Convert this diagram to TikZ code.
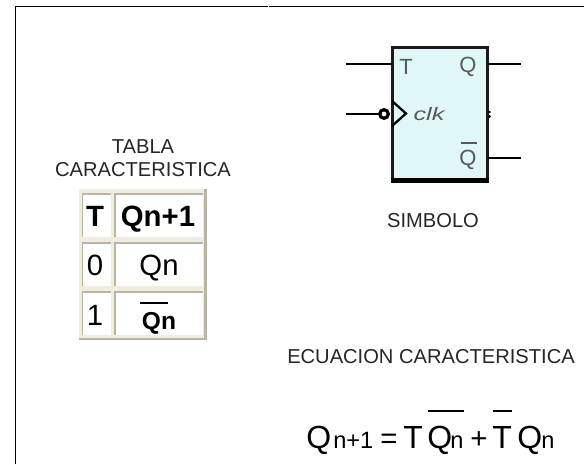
\documentclass[tikz,border=0pt]{standalone}
\usepackage{graphicx}
\usepackage{fontspec}
\setmainfont{Liberation Sans}
\definecolor{cellline}{HTML}{B8B5A0}
\definecolor{celllight}{HTML}{EFEDE0}
\definecolor{ffill}{HTML}{E0F7F7}
\tikzset{
 x=0.75pt,y=-0.75pt,
 frameline/.style={line width=1pt},
 wire/.style={line width=1.8pt},
 lbl/.style={inner sep=0pt,font=\fontsize{15.1pt}{18pt}\selectfont,text=black!85},
 sym/.style={inner sep=0pt,font=\fontsize{16.5pt}{18pt}\selectfont,text=black!65},
 cell/.style={fill=white,inner sep=0pt,outer sep=0pt},
 narrowcell/.style={cell,minimum width=21pt,minimum height=32.25pt},
 widecell/.style={cell,minimum width=66pt,minimum height=32.25pt},
 celledge/.style={draw=cellline,line width=1.3pt},
 tabtxt/.style={inner sep=0pt,anchor=base,font=\fontsize{22pt}{24pt}\selectfont},
 tabbold/.style={inner sep=0pt,anchor=base,font=\fontsize{22pt}{24pt}\bfseries},
 eq/.style={inner sep=0pt,anchor=base west,font=\fontsize{24pt}{26pt}\selectfont},
 eqs/.style={inner sep=0pt,anchor=base west,font=\fontsize{17.7pt}{20pt}\selectfont},
 eqop/.style={inner sep=0pt,anchor=base west,font=\fontsize{22pt}{24pt}\selectfont},
}
\begin{document}
\begin{tikzpicture}
\useasboundingbox (0,0) rectangle (584,464);
\coordinate (fa) at (15.3,464); \coordinate (fb) at (15.3,6.3); \coordinate (fc) at (267.5,6.3);
\coordinate (fd) at (269,6.3); \coordinate (fe) at (584,6.3);
\draw[frameline] (fa) -- (fb) -- (fc);
\draw[frameline] (fd) -- (fe);
% flip-flop
\node[draw=black!90,fill=ffill,line width=2.25pt,minimum width=71.25pt,minimum height=99.4pt,inner sep=0pt,outer sep=0pt] (ff) at (440,113.75) {};
\draw[line width=3.75pt] ([xshift=-1.1pt]ff.south west) -- ([xshift=1.1pt]ff.south east);
\coordinate (tin) at (346,64); \coordinate (tp) at (392,64);
\coordinate (qo) at (521,64); \coordinate (qp) at (488,64);
\coordinate (nqo) at (521,158); \coordinate (nqp) at (488,158);
\coordinate (cin) at (346,114); \coordinate (cp) at (379,114);
\coordinate (k1) at (392,101); \coordinate (k2) at (406,113.5); \coordinate (k3) at (392,126);
\draw[wire] (tin) -- (tp);
\draw[wire] (qp) -- (qo);
\draw[wire] (nqp) -- (nqo);
\draw[line width=1.7pt] (k1) -- (k2) -- (k3);
\draw[wire] (cin) -- (cp);
\draw[line width=2.4pt,fill=white] (384,114) circle (4.3);
\draw[line width=1.6pt,line cap=round] (489,112) -- (489.8,112) (489,116.5) -- (489.8,116.5);
\node[sym] (lt) at (406,67) {T};
\node[sym] (lq) at (468,67) {Q};
\node[sym] (lnq) at (468,160) {Q};
\draw[line width=1pt,black!65] (461,143) -- (477,143);
\node[inner sep=0pt,text=black!65,font=\fontsize{13.5pt}{16pt}\itshape] (lclk) at (429,114) {\scalebox{1.4}[1]{clk}};
\node[lbl] (simb) at (433,221) {SIMBOLO};
\node[lbl] (t1) at (143,147) {TABLA};
\node[lbl] (t2) at (143,170) {CARACTERISTICA};
% table
\fill[cellline] (79,189) rectangle (206.5,339.5);
\fill[celllight] (79,189) rectangle (204,337.5);
\node[narrowcell] (c1) at (96.5,215.5) {};
\node[widecell] (c2) at (159,215.5) {};
\node[narrowcell] (c3) at (96.5,264.5) {};
\node[widecell] (c4) at (159,264.5) {};
\node[narrowcell] (c5) at (96.5,313.5) {};
\node[widecell] (c6) at (159,313.5) {};
\foreach \c in {c1,c2,c3,c4,c5,c6}{
  \draw[celledge] (\c.south west) -- (\c.north west) -- (\c.north east);
}
\node[tabbold] at (95,226) {T};
\node[tabbold] at (158,226) {Qn+1};
\node[tabtxt] at (95,275) {0};
\node[tabtxt] at (159,275) {Qn};
\node[tabtxt] at (95,325) {1};
\node[inner sep=0pt,anchor=base,font=\fontsize{18.4pt}{22pt}\bfseries] (qb) at (159,329) {Qn};
\draw[line width=1.1pt] (140,303) -- (168,303);
% equation
\node[lbl] (ec) at (431,357) {ECUACION CARACTERISTICA};
\node[eq] at (306,448) {Q};
\node[eqs] at (333,448) {n+1};
\node[eqop] at (380,448) {=};
\node[eq] at (403,448) {T};
\node[eq] at (427,448) {Q};
\node[eqs] at (450,448) {n};
\node[eqop] at (470,448) {+};
\node[eq] at (492,448) {T};
\node[eq] at (517,448) {Q};
\node[eqs] at (541,448) {n};
\draw[line width=1.1pt] (428,411) -- (464,411);
\draw[line width=1.1pt] (493,411) -- (512,411);
\end{tikzpicture}
\end{document}
